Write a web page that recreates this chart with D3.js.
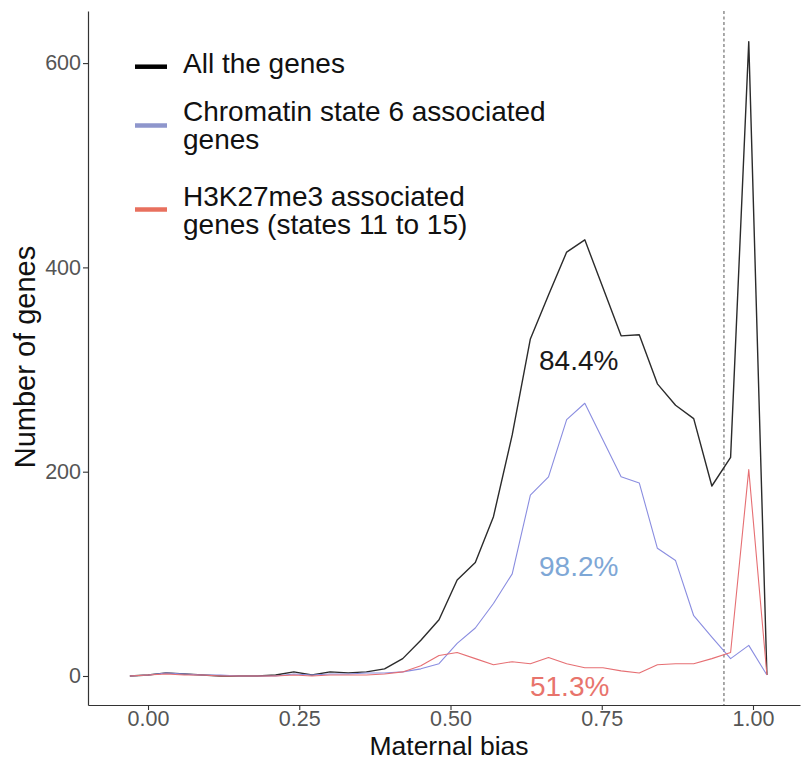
<!DOCTYPE html>
<html>
<head>
<meta charset="utf-8">
<script src="https://cdn.jsdelivr.net/npm/d3@7/dist/d3.min.js"></script>
<style>
  html, body { margin: 0; padding: 0; background: #fff; }
  svg text { font-family: "Liberation Sans", Arial, sans-serif; }
</style>
</head>
<body>
<svg id="chart" width="801" height="761"></svg>
<script>
// ---- data ----
const bias = [-0.030, 0.000, 0.030, 0.060, 0.090, 0.120, 0.150, 0.181, 0.211, 0.241,
              0.271, 0.301, 0.331, 0.361, 0.391, 0.421, 0.451, 0.481, 0.511, 0.541,
              0.571, 0.602, 0.632, 0.662, 0.692, 0.722, 0.752, 0.782, 0.812, 0.842,
              0.872, 0.902, 0.932, 0.963, 0.993, 1.023];
const allGenes = [0, 1, 3, 2, 1, 0, 0, 0, 1, 4,
                  1, 4, 3, 4, 7, 17, 35, 55, 94, 111,
                  156, 236, 330, 373, 415, 427, 380, 333, 334, 286,
                  265, 252, 186, 214, 621, 1];
const chromatin6 = [0, 1, 3, 2, 1, 1, 0, 0, 0, 2,
                    1, 2, 2, 3, 3, 4, 7, 12, 32, 47,
                    71, 100, 177, 195, 251, 267, 231, 195, 189, 125,
                    113, 59, 38, 17, 30, 1];
const h3k27me3 = [0, 1, 2, 1, 1, 0, 0, 0, 0, 1,
                  0, 1, 1, 1, 2, 4, 10, 20, 23, 17,
                  11, 14, 12, 18, 12, 8, 8, 5, 3, 11,
                  12, 12, 17, 23, 202, 1];
const seriesNames = ["All the genes", "Chromatin state 6 associated genes", "H3K27me3 associated genes (states 11 to 15)"];
const legendLines = [["All the genes"], ["Chromatin state 6 associated", "genes"], ["H3K27me3 associated", "genes (states 11 to 15)"]];
const percentLabels = ["84.4%", "98.2%", "51.3%"];
const percentPos = [[0.712, 300], [0.712, 98], [0.697, -20]]; // [bias, genes] anchor of each label
const xTicks = [0, 0.25, 0.5, 0.75, 1.0];
const yTicks = [0, 200, 400, 600];
const threshold = 0.952;

// ---- styles ----
const lineColors = ["#2b2b2b", "#8a8de0", "#e66f73"];
const keyColors = ["#000000", "#8e96cc", "#e8705e"];
const labelColors = ["#1a1a1a", "#7ea7d6", "#e8746c"];

const svg = d3.select("#chart");
const x = d3.scaleLinear().domain([-0.0992, 1.0777]).range([88, 800]);
const yMin = -28.4, yMax = 651;
const y = d3.scaleLinear().domain([yMin, yMax]).range([705, 11]);

// axes
const gx = svg.append("g").attr("transform", `translate(0,${y(yMin)})`)
  .call(d3.axisBottom(x).tickValues(xTicks).tickFormat(d3.format(".2f")).tickSize(5).tickSizeOuter(0).tickPadding(1));
const gy = svg.append("g").attr("transform", "translate(88,0)")
  .call(d3.axisLeft(y).tickValues(yTicks).tickSize(5).tickSizeOuter(0).tickPadding(2));
[gx, gy].forEach(g => {
  g.select(".domain").attr("stroke", "#333").attr("stroke-width", 1.2);
  g.selectAll(".tick line").attr("stroke", "#333").attr("stroke-width", 1.1);
  g.selectAll(".tick text").attr("fill", "#555").style("font-size", "21.5px")
    .style("font-family", "'Liberation Sans', Arial, sans-serif");
});

// threshold line
svg.append("line")
  .attr("x1", x(threshold)).attr("x2", x(threshold))
  .attr("y1", y(yMax)).attr("y2", y(yMin))
  .attr("stroke", "#555").attr("stroke-width", 1).attr("stroke-dasharray", "3,2.5");

// lines
const series = [allGenes, chromatin6, h3k27me3];
const line = d3.line().x((d, i) => x(bias[i])).y(d => y(d));
series.forEach((s, k) => {
  svg.append("path").datum(s)
    .attr("d", line)
    .attr("fill", "none")
    .attr("stroke", lineColors[k])
    .attr("stroke-width", k === 0 ? 1.4 : 1.1)
    .attr("stroke-linejoin", "round");
});

// percentage labels
percentLabels.forEach((t, k) => {
  svg.append("text")
    .attr("x", x(percentPos[k][0])).attr("y", y(percentPos[k][1]))
    .attr("text-anchor", "middle")
    .attr("fill", labelColors[k])
    .style("font-size", "28px")
    .text(t);
});

// legend
const keyY = [66.7, 125.5, 209.5];
const textY = [[73], [120.5, 149], [205.5, 234]];
legendLines.forEach((lines, k) => {
  svg.append("line")
    .attr("x1", 135).attr("x2", 167)
    .attr("y1", keyY[k]).attr("y2", keyY[k])
    .attr("stroke", keyColors[k]).attr("stroke-width", 4.5);
  lines.forEach((ln, j) => {
    svg.append("text")
      .attr("x", 183).attr("y", textY[k][j])
      .attr("fill", "#111")
      .style("font-size", "28px")
      .text(ln);
  });
});

// axis titles
svg.append("text")
  .attr("x", 449).attr("y", 755)
  .attr("text-anchor", "middle")
  .attr("fill", "#111")
  .style("font-size", "26.5px")
  .text("Maternal bias");
svg.append("text")
  .attr("transform", "translate(35,357) rotate(-90)")
  .attr("text-anchor", "middle")
  .attr("fill", "#111")
  .style("font-size", "29px")
  .text("Number of genes");
</script>
</body>
</html>
